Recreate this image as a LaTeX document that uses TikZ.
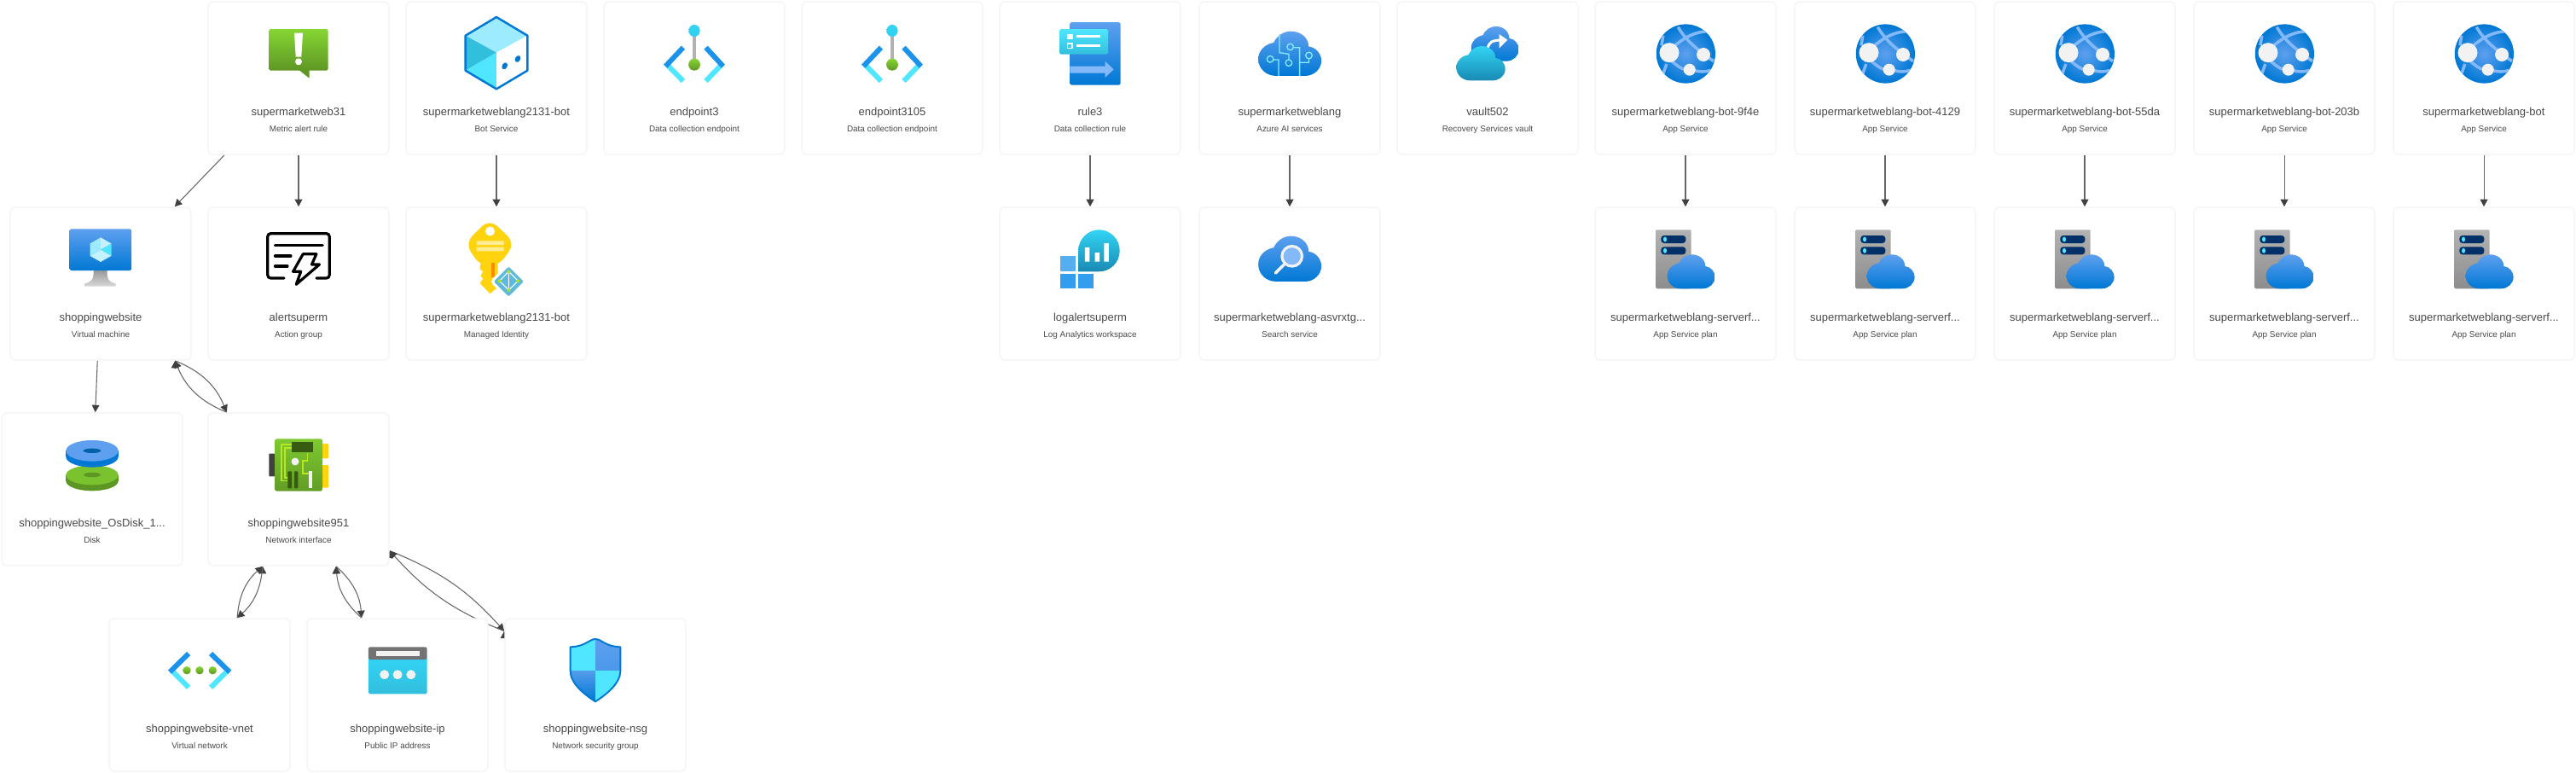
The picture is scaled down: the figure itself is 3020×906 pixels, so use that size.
\documentclass[tikz,border=0pt]{standalone}
\usepackage{fontspec}
\setmainfont{Liberation Sans}
\usetikzlibrary{arrows.meta,backgrounds}

\definecolor{azblue}{HTML}{0078D4}
\definecolor{azsky}{HTML}{5EA0EF}
\definecolor{azpale}{HTML}{83B9F9}
\definecolor{azdash}{HTML}{1B93EB}
\definecolor{azcyan}{HTML}{50E6FF}
\definecolor{azfoam}{HTML}{9CEBFF}
\definecolor{azteal}{HTML}{32BEDD}
\definecolor{azaqua}{HTML}{32D4F5}
\definecolor{azdeep}{HTML}{198AB3}
\definecolor{aznavy}{HTML}{003067}
\definecolor{leaf}{HTML}{86D633}
\definecolor{moss}{HTML}{5E9624}
\definecolor{chipgreen}{HTML}{375B10}
\definecolor{keygold}{HTML}{FFD40F}
\definecolor{badgeblue}{HTML}{5EB9DD}
\definecolor{snow}{HTML}{F2F2F2}
\definecolor{cardline}{HTML}{F5F5F5}
\definecolor{linkgray}{HTML}{666666}
\definecolor{tipgray}{HTML}{404040}
\definecolor{textgray}{HTML}{4A4A4A}

\newcommand{\cloudoutline}{(-16,28.5) .. controls (-28,28.5) and (-37,19) .. (-37,7)
  .. controls (-37,-4) and (-29,-12) .. (-19,-14)
  .. controls (-15,-23) and (-7,-28.5) .. (1,-28.5)
  .. controls (13,-28.5) and (22,-20) .. (22,-9)
  .. controls (31,-8) and (37,1) .. (37,9)
  .. controls (37,20) and (28,28.5) .. (18,28.5) -- cycle}

\tikzset{
  bluefade/.style={top color=azsky,bottom color=azblue},
  aquafade/.style={top color=azaqua,bottom color=azdeep},
  alerticon/.pic={
    \path[top color=leaf,bottom color=moss,rounded corners=1pt] (-34.7,-57.5) rectangle (34.7,-8.8);
    \fill[moss] (0.7,-9.3) -- (12.7,0.2) -- (12.7,-9.3) -- cycle;
    \fill[white] (-5,-52.8) -- (5,-52.8) -- (3.3,-24.8) -- (-3.3,-24.8) -- cycle;
    \fill[white] (0,-19.2) circle (4);
  },
  boticon/.pic={
    \fill[azfoam] (0,-71.5) -- (36.3,-49.8) -- (0,-29.8) -- (-36.3,-49.8) -- cycle;
    \fill[azteal] (-36.3,-49.8) -- (0,-29.8) -- (-36.3,-8.8) -- cycle;
    \fill[azcyan] (-36.3,-8.8) -- (0,-29.8) -- (0,12.8) -- cycle;
    \fill[white] (0,-29.8) -- (36.3,-49.8) -- (36.3,-8.8) -- (0,12.8) -- cycle;
    \draw[azblue,line width=1.4pt,line join=round] (0,-71.5) -- (36.3,-49.8) -- (36.3,-8.8) -- (0,12.8) -- (-36.3,-8.8) -- (-36.3,-49.8) -- cycle;
    \fill[azblue,rotate around={-30:(9.7,-14.2)}] (9.7,-14.2) ellipse [x radius=3,y radius=4.2];
    \fill[azblue,rotate around={-30:(25,-22.5)}] (25,-22.5) ellipse [x radius=3,y radius=4.2];
  },
  endpointicon/.pic={
    \draw[azcyan,line width=3.4pt] (-13.1,3.5) -- (-32,-15.8) (13.5,3.5) -- (32,-15.8);
    \draw[azdash,line width=3.4pt] (-13.1,-35.8) -- (-33.8,-13.8) (13.5,-35.8) -- (33.8,-13.8);
    \draw[black!30,line width=2.5pt] (0,-55.5) -- (0,-15.8);
    \path[top color=azaqua,bottom color=azaqua!80!azteal] (0,-55.5) ellipse [x radius=6.6,y radius=7];
    \path[top color=leaf,bottom color=moss] (0,-15.8) ellipse [x radius=6.9,y radius=7];
  },
  ruleicon/.pic={
    \path[bluefade,rounded corners=1pt] (-23.6,-65.5) rectangle (35.6,8.2);
    \fill[azpale] (-23.6,-13.8) -- (17.5,-13.8) -- (17.5,-19.8) -- (27.6,-10.2) -- (17.5,-0.5) -- (17.5,-5.8) -- (-23.6,-5.8) -- cycle;
    \path[top color=azcyan,bottom color=azteal,rounded corners=1pt] (-36,-57.5) rectangle (21,-27.8);
    \fill[white] (-27,-51.5) rectangle (-20.5,-45.2);
    \draw[white,line width=.7pt] (-26.6,-40.4) rectangle (-20.9,-35.2);
    \draw[white,line width=1.4pt] (-16.4,-48.8) -- (12,-48.8) (-16.4,-38.2) -- (12,-38.2);
  },
  aiicon/.pic={
    \path[bluefade,shift={(0.15,-28.7)},yscale=.917] \cloudoutline;
    \draw[azcyan!70!white,line width=.75pt]
      (-12,-51.5) -- (-12,-29.8) -- (-1.1,-28.2) -- (-1.1,-21.5)
      (-13.1,-2.5) -- (-13.1,-21.5) -- (-19.3,-21.5)
      (11.6,-2.5) -- (11.6,-35.8) -- (4.4,-35.8)
      (11.6,-18.2) -- (22.5,-18.2) -- (22.5,-22.5)
      (-1.1,-17.8) circle (3.8) (-22.9,-22.2) circle (3.8) (22.5,-26.5) circle (3.8) (0.7,-36.5) circle (3.8);
  },
  vaulticon/.pic={
    \path[bluefade,shift={(8.7,-40.2)},xscale=.757,yscale=.714] \cloudoutline;
    \draw[white,line width=1.7pt] (-0.4,-34.8) .. controls (3.3,-43.2) .. (16,-44.8);
    \fill[white] (13.5,-51.5) -- (23.3,-44.8) -- (13.5,-34.8) -- cycle;
    \path[aquafade,shift={(-8,-17.3)},xscale=.776,yscale=.707] \cloudoutline;
  },
  globeicon/.pic={
    \begin{scope}
      \clip (0.35,-28.5) circle (34.6);
      \path[inner color=azsky,outer color=azblue] (0.35,-28.5) circle (34.6);
      \draw[azpale,line width=2pt]
        (-8.7,-59.8) .. controls (0,-45) and (11.3,-34.8) .. (33,-19.8)
        (25.8,-54.8) .. controls (12,-54) and (2.2,-49.8) .. (-12.4,-38.2)
        (-26.2,-49.8) -- (-28,-38.2)
        (-16,-19.8) .. controls (-10,-15) and (-6,-11) .. (0.4,-9.8)
        (9.5,-9.2) .. controls (16,-7) and (24,-7) .. (29.5,-9.2)
        (-22.2,-16.5) -- (-26.9,-3.2);
    \end{scope}
    \fill[snow] (-19,-29.8) circle (11.5);
    \fill[snow] (21,-27.5) circle (8);
    \fill[snow] (4.7,-9.8) circle (7);
  },
  vmicon/.pic={
    \path[top color=black!40,bottom color=black!15] (-8.2,-15.5) -- (7.5,-15.5) .. controls (7.5,-4) and (10,-2) .. (17.6,0) -- (17.6,3.2) -- (-19,3.2) -- (-19,0) .. controls (-11,-2) and (-8.2,-4) .. (-8.2,-15.5) -- cycle;
    \path[bluefade,rounded corners=1pt] (-36.5,-64.2) rectangle (36.2,-15.5);
    \fill[azfoam] (0,-39.8) -- (-12.5,-47) -- (0,-54.2) -- cycle;
    \fill[azfoam!60!white] (0,-39.8) -- (12.5,-47) -- (0,-54.2) -- cycle;
    \fill[azcyan] (0,-39.8) -- (12.5,-47) -- (12.5,-32.6) -- cycle;
    \fill[azfoam!60!white] (0,-39.8) -- (12.5,-32.6) -- (0,-25.5) -- cycle;
    \fill[azfoam!60!white] (0,-39.8) -- (-12.5,-32.6) -- (0,-25.5) -- cycle;
    \fill[azfoam] (0,-39.8) -- (-12.5,-47) -- (-12.5,-32.6) -- cycle;
  },
  actionicon/.pic={
    \draw[black,line width=1.8pt,rounded corners=2pt,line cap=round] (-17,-6.5) -- (-36.2,-6.5) -- (-36.2,-58.8) -- (36.2,-58.8) -- (36.2,-6.5) -- (21,-6.5);
    \draw[black,line width=1.8pt,line cap=round] (-27.5,-44.8) -- (28.2,-44.8) (-27.5,-32.5) -- (-9,-32.5) (-27.5,-20.5) -- (-13,-20.5);
    \draw[black,fill=white,line width=1.8pt,line join=round] (5.3,-34.8) -- (20.9,-34.8) -- (15.5,-22.5) -- (24.5,-22.5) -- (-2.7,0.8) -- (2.7,-14.2) -- (-6.4,-14.2) -- cycle;
  },
  keyicon/.pic={
    \fill[keygold,rounded corners=7pt] (-8,-76) -- (22,-47.5) -- (1.6,-20) -- (-18.4,-20) -- (-37,-47.5) -- cycle;
    \fill[keygold] (-18.4,-24) -- (1.6,-24) -- (1.6,5) -- (-2.7,7.5) -- (-7.5,11.8) -- (-19.5,-0.8) -- (-15.5,-5.8) -- (-18.4,-9.2) -- (-15.8,-14.2) -- (-19.5,-17.5) -- cycle;
    \fill[white] (-7.5,-61.5) circle (5.5);
    \fill[keygold!45!white] (-23.5,-50.2) rectangle (8.5,-45.5) (-23.5,-42.8) rectangle (8.5,-38.2);
    \fill[orange!90!yellow] (-6.4,-24.2) rectangle (-2,-7.5);
    \draw[white,line width=1.8pt,fill=badgeblue,rounded corners=2pt] (14.4,-22.5) -- (34.4,-2.5) -- (14.4,17.5) -- (-5.6,-2.5) -- cycle;
    \draw[white,line width=.6pt] (14.4,-14.2) -- (25.3,-3.2) -- (14.4,7.5) -- (3.5,-3.2) -- cycle (14.4,-14.2) -- (14.4,7.5);
    \foreach \px/\py in {14.4/-14.2,25.3/-3.2,14.4/7.5,3.5/-3.2} {
      \fill[leaf!70!yellow] (\px,\py) circle (2);
    }
  },
  logicon/.pic={
    \path[aquafade] (-13.8,-14.2) -- (-13.8,-38.7) .. controls (-13.8,-52) and (-3,-63.2) .. (10.4,-63.2) .. controls (24,-63.2) and (34.7,-52) .. (34.7,-38.7) .. controls (34.7,-25) and (24,-14.2) .. (10.4,-14.2) -- cycle;
    \fill[white] (-6.2,-42.5) rectangle (-0.6,-25.8) (5.6,-36.5) rectangle (11.2,-25.8) (16.3,-47.5) rectangle (21.9,-25.8);
    \fill[azdash!75!white] (-34.7,-32.5) rectangle (-16.9,-14.8);
    \fill[azdash!90!white] (-34.7,-11.8) rectangle (-16.9,5.8);
    \fill[azdash!90!white] (-13.8,-11.8) rectangle (4,5.8);
  },
  searchicon/.pic={
    \path[bluefade,shift={(0.15,-29.2)},yscale=.935] \cloudoutline;
    \draw[snow,line width=2pt,line cap=round] (-6.5,-22.5) -- (-16.7,-12.5);
    \draw[snow,line width=1.8pt,fill=azpale] (2.7,-32.2) circle (11.8);
  },
  planicon/.pic={
    \path[top color=black!30,bottom color=black!45,rounded corners=.5pt] (-34.3,-63.2) rectangle (6.5,5.8);
    \fill[aznavy,rounded corners=2pt] (-28.7,-56.5) rectangle (0.4,-47.5) (-28.7,-43.2) rectangle (0.4,-34.2);
    \fill[azcyan] (-24,-52) ellipse [x radius=2,y radius=3] (-24,-38.7) ellipse [x radius=2,y radius=3];
    \path[bluefade,shift={(6.6,-14.2)},xscale=.758,yscale=.702] \cloudoutline;
  },
  diskicon/.pic={
    \fill[moss] (-30.7,-16.7) rectangle (30.7,-9.7);
    \fill[moss] (0,-9.7) ellipse [x radius=30.7,y radius=11.5];
    \fill[leaf!70!moss] (0,-16.7) ellipse [x radius=30.7,y radius=11.5];
    \fill[moss] (0,-17) ellipse [x radius=10,y radius=2.7];
    \fill[azblue] (-30.7,-45.2) rectangle (30.7,-38.2);
    \fill[azblue] (0,-38.2) ellipse [x radius=30.7,y radius=12.3];
    \fill[azsky] (0,-45.2) ellipse [x radius=30.7,y radius=12.3];
    \fill[azblue!80!black] (0,-45.2) ellipse [x radius=10.3,y radius=2.7];
  },
  nicicon/.pic={
    \fill[black!75,rounded corners=.5pt] (-34.7,-41.8) rectangle (-27.7,-15.2);
    \fill[keygold,rounded corners=.5pt] (28,-53.5) rectangle (35,-36.2) (28,-28.5) rectangle (35,-1.8);
    \path[top color=leaf!80!moss,bottom color=moss!90!leaf,rounded corners=1pt] (-27.7,-59.2) rectangle (28,2.2);
    \draw[leaf!60!yellow,line width=.8pt]
      (-8,-52.5) -- (-20,-52.5) -- (-20,-10.2) -- (-13.3,-10.2)
      (-8,-48.5) -- (-16,-48.5) -- (-16,-13.5) -- (-13.3,-13.5)
      (10.7,-42.5) -- (10.7,-33.5) -- (5,-33.5) -- (5,-18.5) -- (11.7,-18.5);
    \fill[chipgreen] (-8,-55.8) rectangle (17.3,-43.2);
    \fill[chipgreen,rounded corners=.5pt] (-12.7,-21.2) rectangle (-8,-1.2) (-5,-21.2) rectangle (-0.7,-1.2);
    \fill[snow] (11.7,-21.2) rectangle (16,-1.2);
    \fill[snow] (-4,-32.5) circle (4.5);
  },
  vneticon/.pic={
    \draw[azcyan,line width=3.4pt] (-12.9,-8.8) -- (-33,-28.8) (13.1,-8.8) -- (33.3,-28.8);
    \draw[azdash,line width=3.4pt] (-12.9,-48.5) -- (-35,-26.8) (13.1,-48.5) -- (35.3,-26.8);
    \path[top color=leaf,bottom color=moss] (-15,-28.8) circle (4.7);
    \path[top color=leaf,bottom color=moss] (0,-28.8) circle (4.7);
    \path[top color=leaf,bottom color=moss] (15.3,-28.8) circle (4.7);
  },
  ipicon/.pic={
    \path[top color=azaqua,bottom color=azteal,rounded corners=1pt] (-34.2,-45) rectangle (34.7,-1.2);
    \fill[black!55,rounded corners=1pt] (-34.2,-56.2) rectangle (34.7,-41.5);
    \fill[snow] (-25,-51.8) rectangle (25.8,-45.8);
    \fill[snow] (-15.3,-23.8) circle (5.5) (0.1,-23.8) circle (5.5) (15.8,-23.8) circle (5.5);
  },
  shieldicon/.pic={
    \fill[azcyan] (0,-65.5) .. controls (-7,-65.5) and (-12,-56.5) .. (-29.4,-56.2) -- (-29.4,-28.5) -- (0,-28.5) -- cycle;
    \path[bluefade,top color=azsky,bottom color=azsky!80!azblue] (0,-65.5) .. controls (7,-65.5) and (12,-56.5) .. (29.4,-56.2) -- (29.4,-28.5) -- (0,-28.5) -- cycle;
    \path[bluefade,top color=azsky!90!azblue] (-29.4,-28.5) .. controls (-29.4,-13) and (-12,0) .. (0,7.8) -- (0,-28.5) -- cycle;
    \fill[azcyan] (29.4,-28.5) .. controls (29.4,-13) and (12,0) .. (0,7.8) -- (0,-28.5) -- cycle;
    \draw[azblue,line width=1.1pt,line join=round] (0,-65.5) .. controls (-7,-65.5) and (-12,-56.5) .. (-29.4,-56.2) -- (-29.4,-28.5) .. controls (-29.4,-13) and (-12,0) .. (0,7.8) .. controls (12,0) and (29.4,-13) .. (29.4,-28.5) -- (29.4,-56.2) .. controls (12,-56.5) and (7,-65.5) .. (0,-65.5) -- cycle;
  },
}

\begin{document}
\begin{tikzpicture}[x=0.02cm,y=-0.02cm,
    card/.style={rectangle, draw=cardline, fill=white, line width=.85pt, rounded corners=3.4pt, minimum width=4.24cm, minimum height=3.58cm, inner sep=0pt, outer sep=.5pt},
    cardname/.style={anchor=base, inner sep=0pt, text=textgray, font=\fontsize{7.4}{9}\selectfont},
    cardkind/.style={anchor=base, inner sep=0pt, text=textgray, font=\fontsize{5.65}{7}\selectfont},
    link/.style={draw=linkgray, line width=.6pt, -{Triangle[length=4.8pt,width=5pt,color=tipgray]}}]

    \useasboundingbox (0,0) rectangle (3020,906);

    % first row
    \node[card] (web31) at (350,91.5) {};
    \pic at (web31) {alerticon};
    \node[cardname] (web31n) at (350,135) {supermarketweb31};
    \node[cardkind] (web31k) at (350,154) {Metric alert rule};

    \node[card] (botsvc) at (582,91.5) {};
    \pic at (botsvc) {boticon};
    \node[cardname] (botsvcn) at (582,135) {supermarketweblang2131-bot};
    \node[cardkind] (botsvck) at (582,154) {Bot Service};

    \node[card] (ep3) at (814,91.5) {};
    \pic at (ep3) {endpointicon};
    \node[cardname] (ep3n) at (814,135) {endpoint3};
    \node[cardkind] (ep3k) at (814,154) {Data collection endpoint};

    \node[card] (ep3105) at (1046,91.5) {};
    \pic at (ep3105) {endpointicon};
    \node[cardname] (ep3105n) at (1046,135) {endpoint3105};
    \node[cardkind] (ep3105k) at (1046,154) {Data collection endpoint};

    \node[card] (rule3) at (1278,91.5) {};
    \pic at (rule3) {ruleicon};
    \node[cardname] (rule3n) at (1278,135) {rule3};
    \node[cardkind] (rule3k) at (1278,154) {Data collection rule};

    \node[card] (aisvc) at (1512,91.5) {};
    \pic at (aisvc) {aiicon};
    \node[cardname] (aisvcn) at (1512,135) {supermarketweblang};
    \node[cardkind] (aisvck) at (1512,154) {Azure AI services};

    \node[card] (vault) at (1744,91.5) {};
    \pic at (vault) {vaulticon};
    \node[cardname] (vaultn) at (1744,135) {vault502};
    \node[cardkind] (vaultk) at (1744,154) {Recovery Services vault};

    \node[card] (app1) at (1976,91.5) {};
    \pic at (app1) {globeicon};
    \node[cardname] (app1n) at (1976,135) {supermarketweblang-bot-9f4e};
    \node[cardkind] (app1k) at (1976,154) {App Service};

    \node[card] (app2) at (2210,91.5) {};
    \pic at (app2) {globeicon};
    \node[cardname] (app2n) at (2210,135) {supermarketweblang-bot-4129};
    \node[cardkind] (app2k) at (2210,154) {App Service};

    \node[card] (app3) at (2444,91.5) {};
    \pic at (app3) {globeicon};
    \node[cardname] (app3n) at (2444,135) {supermarketweblang-bot-55da};
    \node[cardkind] (app3k) at (2444,154) {App Service};

    \node[card] (app4) at (2678,91.5) {};
    \pic at (app4) {globeicon};
    \node[cardname] (app4n) at (2678,135) {supermarketweblang-bot-203b};
    \node[cardkind] (app4k) at (2678,154) {App Service};

    \node[card] (app5) at (2912,91.5) {};
    \pic at (app5) {globeicon};
    \node[cardname] (app5n) at (2912,135) {supermarketweblang-bot};
    \node[cardkind] (app5k) at (2912,154) {App Service};

    % second row
    \node[card] (vm) at (118,332.5) {};
    \pic at (vm) {vmicon};
    \node[cardname] (vmn) at (118,376) {shoppingwebsite};
    \node[cardkind] (vmk) at (118,395) {Virtual machine};

    \node[card] (alert) at (350,332.5) {};
    \pic at (alert) {actionicon};
    \node[cardname] (alertn) at (350,376) {alertsuperm};
    \node[cardkind] (alertk) at (350,395) {Action group};

    \node[card] (botid) at (582,332.5) {};
    \pic at (botid) {keyicon};
    \node[cardname] (botidn) at (582,376) {supermarketweblang2131-bot};
    \node[cardkind] (botidk) at (582,395) {Managed Identity};

    \node[card] (logs) at (1278,332.5) {};
    \pic at (logs) {logicon};
    \node[cardname] (logsn) at (1278,376) {logalertsuperm};
    \node[cardkind] (logsk) at (1278,395) {Log Analytics workspace};

    \node[card] (search) at (1512,332.5) {};
    \pic at (search) {searchicon};
    \node[cardname] (searchn) at (1512,376) {supermarketweblang-asvrxtg...};
    \node[cardkind] (searchk) at (1512,395) {Search service};

    \node[card] (plan1) at (1976,332.5) {};
    \pic at (plan1) {planicon};
    \node[cardname] (plan1n) at (1976,376) {supermarketweblang-serverf...};
    \node[cardkind] (plan1k) at (1976,395) {App Service plan};

    \node[card] (plan2) at (2210,332.5) {};
    \pic at (plan2) {planicon};
    \node[cardname] (plan2n) at (2210,376) {supermarketweblang-serverf...};
    \node[cardkind] (plan2k) at (2210,395) {App Service plan};

    \node[card] (plan3) at (2444,332.5) {};
    \pic at (plan3) {planicon};
    \node[cardname] (plan3n) at (2444,376) {supermarketweblang-serverf...};
    \node[cardkind] (plan3k) at (2444,395) {App Service plan};

    \node[card] (plan4) at (2678,332.5) {};
    \pic at (plan4) {planicon};
    \node[cardname] (plan4n) at (2678,376) {supermarketweblang-serverf...};
    \node[cardkind] (plan4k) at (2678,395) {App Service plan};

    \node[card] (plan5) at (2912,332.5) {};
    \pic at (plan5) {planicon};
    \node[cardname] (plan5n) at (2912,376) {supermarketweblang-serverf...};
    \node[cardkind] (plan5k) at (2912,395) {App Service plan};

    % third row
    \node[card] (disk) at (108,573.5) {};
    \pic at (disk) {diskicon};
    \node[cardname] (diskn) at (108,617) {shoppingwebsite\_OsDisk\_1...};
    \node[cardkind] (diskk) at (108,636) {Disk};

    \node[card] (nic) at (350,573.5) {};
    \pic at (nic) {nicicon};
    \node[cardname] (nicn) at (350,617) {shoppingwebsite951};
    \node[cardkind] (nick) at (350,636) {Network interface};

    % fourth row
    \node[card] (vnet) at (234,814.5) {};
    \pic at (vnet) {vneticon};
    \node[cardname] (vnetn) at (234,858) {shoppingwebsite-vnet};
    \node[cardkind] (vnetk) at (234,877) {Virtual network};

    \node[card] (pubip) at (466,814.5) {};
    \pic at (pubip) {ipicon};
    \node[cardname] (pubipn) at (466,858) {shoppingwebsite-ip};
    \node[cardkind] (pubipk) at (466,877) {Public IP address};

    \node[card] (nsg) at (698,814.5) {};
    \pic at (nsg) {shieldicon};
    \node[cardname] (nsgn) at (698,858) {shoppingwebsite-nsg};
    \node[cardkind] (nsgk) at (698,877) {Network security group};

    % links go under the cards
    \begin{scope}[on background layer]
        \fill[white] (0,0) rectangle (3020,906);

        \path[link] (web31) edge (vm);
        \path[link] (web31) edge (alert);
        \path[link] (botsvc) edge (botid);
        \path[link] (rule3) edge (logs);
        \path[link] (aisvc) edge (search);

        \path[link] (app1) edge (plan1);
        \path[link] (app2) edge (plan2);
        \path[link] (app3) edge (plan3);
        \path[link] (app4) edge (plan4);
        \path[link] (app5) edge (plan5);

        \path[link] (vm) edge (disk);
        \path[link] (vm.-46.1) edge[bend left=23] (nic.133.9);
        \path[link] (nic.133.9) edge[bend left=23] (vm.-46.1);

        \path[link] (nic.-115.7) edge[bend left=22] (vnet.64.3);
        \path[link] (vnet.64.3) edge[bend left=22] (nic.-115.7);
        \path[link] (nic.-64.3) edge[bend left=22] (pubip.115.7);
        \path[link] (pubip.115.7) edge[bend left=22] (nic.-64.3);
        \path[link] (nic.-34.7) edge[bend left=13] (nsg.145.3);
        \path[link] (nsg.145.3) edge[bend left=13] (nic.-34.7);
    \end{scope}

\end{tikzpicture}
\end{document}
